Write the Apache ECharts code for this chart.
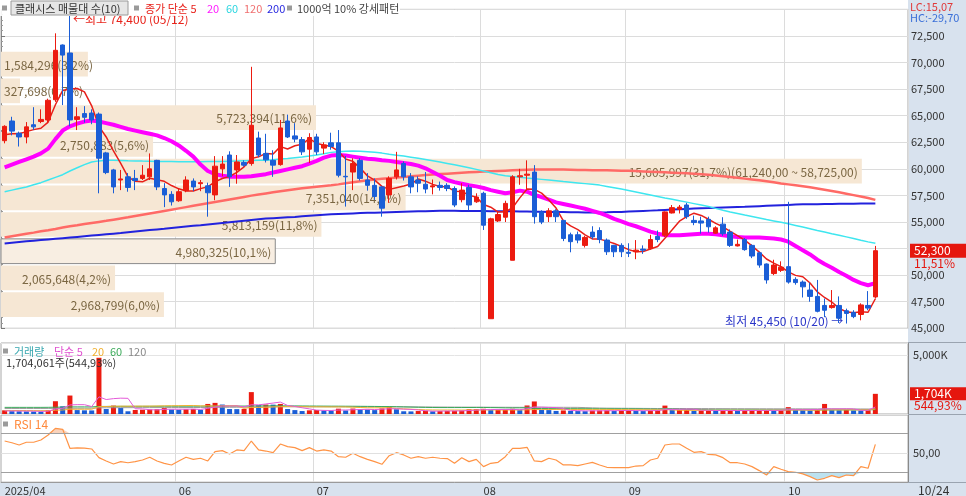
<!DOCTYPE html>
<html><head><meta charset="utf-8">
<script src="https://cdn.jsdelivr.net/npm/echarts@6/dist/echarts.min.js"></script>
<style>html,body{margin:0;padding:0;background:#fff;overflow:hidden}#c{width:966px;height:496px}</style>
</head><body><div id="c"></div>
<script>
// ---------------- DATA ----------------
const dates = [
'04/24','04/25','04/28','04/29','04/30',
'05/02','05/07','05/08','05/09','05/12','05/13','05/14','05/15','05/16','05/19','05/20','05/21','05/22','05/23','05/26','05/27','05/28','05/29','05/30',
'06/02','06/04','06/05','06/09','06/10','06/11','06/12','06/13','06/16','06/17','06/18','06/19','06/20','06/23','06/24','06/25','06/26','06/27','06/30',
'07/01','07/02','07/03','07/04','07/07','07/08','07/09','07/10','07/11','07/14','07/15','07/16','07/17','07/18','07/21','07/22','07/23','07/24','07/25','07/28','07/29','07/30','07/31',
'08/01','08/04','08/05','08/06','08/07','08/08','08/11','08/12','08/13','08/14','08/18','08/19','08/20','08/21','08/22','08/25','08/26','08/27','08/28','08/29',
'09/01','09/02','09/03','09/04','09/05','09/08','09/09','09/10','09/11','09/12','09/15','09/16','09/17','09/18','09/19','09/22','09/23','09/24','09/25','09/26','09/29','09/30',
'10/01','10/02','10/10','10/13','10/14','10/15','10/16','10/17','10/20','10/21','10/22','10/23','10/24'];

const opens = [62650,64500,63350,63000,64150,64450,64600,66500,71650,70900,
64650,65200,65250,65150,61500,59900,58950,59250,59100,59100,
59250,60800,58150,57600,57000,57950,58850,58600,58400,57550,
60000,61300,59900,60600,60500,62900,61450,60800,60400,64500,
63100,62750,61850,63000,61950,62450,62450,59300,59700,60800,
58950,58450,58300,57550,59250,60500,59250,58950,58550,58300,
58450,58450,58150,57100,58250,56900,57700,45900,55100,55450,
51400,59250,59400,59700,55950,55500,56050,55150,53800,53800,
52800,54050,54200,53300,52800,52800,52150,52200,52450,52500,
53650,53750,55850,56200,56600,55150,55100,55250,53950,54800,
54050,52750,53350,52800,52100,51050,50150,50450,50800,49600,
49350,48600,48000,47150,46950,47150,46650,46500,46300,47150,
47950];
const closes = [64000,63550,63000,63950,63950,64650,66450,71150,70700,64600,
64900,64850,64600,61000,59650,58300,59050,58250,58900,59400,
60000,58300,57550,56900,57850,58950,58300,58700,57750,60250,
60450,59250,60650,60350,64100,61300,60850,60350,63850,63000,
62800,61600,62950,61600,62250,62100,59400,59250,60500,59100,
58450,57400,56300,59100,59900,59250,58300,58650,58100,58400,
58250,58150,56600,58000,56600,57350,54700,55300,55700,56750,
59250,59350,59500,55500,55000,56050,55500,53450,53150,53300,
53550,53600,53350,52200,52200,52200,52050,52350,52350,53350,
53350,55950,56350,56400,55500,54950,54900,54550,54450,53900,
52800,52900,52400,51800,50950,49550,50950,50750,49350,49300,
48900,48000,46600,46700,47150,45950,46400,46100,47200,46900,
52300];
const lows = [62400,63150,62100,62400,63650,64300,64300,66300,66000,64000,
63650,64350,64200,57700,59500,57700,58000,57850,58000,58950,
58950,58000,56400,56550,56900,57800,57900,57900,55500,57050,
59300,58300,58600,60200,60300,61100,60600,59250,60300,62900,
62500,61300,60550,61300,61400,61800,59200,56450,58000,58900,
57950,57100,55500,56800,59000,58900,57700,57800,57700,57600,
57950,57900,56400,56850,56100,56800,54250,45900,55000,55000,
51400,58500,58000,54850,54800,55000,55000,53200,52150,53000,
52600,53400,53000,51900,51700,51700,51700,51500,52000,52400,
53100,53600,55800,55800,55300,54700,53900,54000,53900,53700,
52650,52700,52300,51600,50700,49200,50000,50300,49200,49100,
47900,47500,46500,46050,46850,45500,45450,45950,45750,46700,
47800];
const highs = [64100,64900,63500,64400,65800,65600,66600,72750,71700,74400,
65800,65900,65600,65300,61600,60000,59900,59600,59900,60350,
61450,60850,58650,57900,58200,59300,59100,58950,58700,61200,
61200,61650,61300,60800,69600,63500,63300,61750,64600,65100,
64300,63000,63350,63300,62500,63400,63650,61200,61000,61000,
59600,59100,58400,59300,61600,60700,59600,59300,59700,59000,
58800,58650,58350,58650,58500,57700,57850,55400,56000,57000,
59400,60000,60800,60350,56100,56300,56200,55200,54000,54100,
53700,54600,54500,53450,52850,53000,53000,53300,52800,53800,
54200,56000,56600,56600,56800,55600,55500,55500,54600,55450,
54300,53350,53500,52900,52200,51100,51450,51300,56900,49800,
49500,49300,49550,47800,48600,48000,46850,46700,47350,48500,
52750];

const ma5 = [63200,63300,63300,63500,63690,63820,64400,66030,67380,67510,
67560,67240,65930,63990,63000,61680,60520,59250,58830,58780,
59120,58970,58830,58430,58120,57910,57910,58140,58310,58790,
59090,59280,59670,60190,60960,61130,61450,61390,62090,61870,
62170,62320,62840,62390,62240,62100,61660,60920,60700,60070,
59340,58940,58350,58070,58230,58390,58570,59040,58840,58540,
58340,58310,57900,57880,57520,57340,56650,56390,55930,55960,
56340,57270,58110,58070,57720,57080,56310,55100,54630,54290,
53790,53410,53390,53200,52980,52710,52400,52200,52230,52460,
52690,53470,54270,55080,55510,55830,55620,55260,54870,54550,
54120,53720,53290,52760,52170,51520,51130,50800,50310,49980,
49850,49260,48430,47900,47470,46880,46560,46460,46560,46510,
47780];
const ma20 = [60150,60400,60650,60900,61150,61450,61900,62800,63600,64000,
64250,64450,64550,64450,64300,64150,63950,63750,63600,63450,
63300,63150,62900,62600,62200,61700,61150,60400,59800,59500,
59350,59250,59250,59250,59300,59400,59500,59650,59800,59950,
60100,60250,60500,60750,61050,61250,61300,61250,61150,61050,
60950,60900,60800,60750,60650,60550,60450,60300,60050,59700,
59350,58950,58750,58600,58450,58350,58200,58000,57850,57700,
57800,57950,57850,57550,57350,57100,56850,56700,56550,56400,
56250,56050,55850,55600,55300,55050,54800,54600,54350,54100,
53900,53750,53750,53750,53800,53850,53900,53900,53850,53750,
53650,53600,53550,53550,53550,53500,53450,53350,53150,52750,
52350,51950,51450,51050,50700,50300,49950,49550,49250,49050,
49250];
const ma60 = [57850,58000,58150,58300,58500,58700,58950,59200,59450,59800,
60100,60400,60650,60750,60800,60800,60780,60760,60750,60730,
60720,60700,60690,60680,60670,60670,60670,60670,60680,60690,
60700,60720,60740,60760,60780,60800,60820,60860,60920,60980,
61050,61120,61200,61300,61420,61550,61620,61660,61670,61660,
61620,61560,61480,61380,61290,61200,61100,60990,60880,60760,
60640,60510,60380,60240,60100,59950,59790,59630,59470,59350,
59270,59200,59130,59070,59010,58950,58880,58810,58750,58680,
58610,58540,58470,58350,58230,58100,57960,57820,57680,57540,
57400,57260,57130,57000,56870,56730,56590,56450,56280,56110,
55950,55800,55650,55510,55370,55230,55100,54970,54830,54680,
54520,54360,54200,54050,53900,53760,53600,53440,53280,53130,
53000];
const ma120 = [53540,53660,53780,53890,54000,54120,54230,54350,54480,54600,
54700,54810,54910,55010,55110,55220,55330,55440,55560,55680,
55800,55920,56040,56160,56280,56400,56520,56640,56760,56880,
57000,57120,57240,57360,57480,57590,57690,57790,57890,57990,
58090,58170,58240,58310,58380,58450,58540,58640,58740,58840,
58930,59000,59060,59120,59180,59240,59300,59360,59420,59470,
59510,59550,59590,59630,59670,59710,59740,59770,59800,59830,
59860,59890,59920,59940,59950,59950,59940,59930,59920,59900,
59890,59880,59870,59860,59850,59830,59810,59790,59760,59730,
59700,59670,59640,59610,59580,59540,59500,59440,59380,59310,
59240,59160,59080,59000,58920,58830,58730,58630,58540,58450,
58360,58260,58160,58040,57920,57790,57660,57530,57400,57250,
57080];
const ma200 = [52980,53050,53120,53180,53240,53300,53360,53420,53480,53540,
53600,53660,53720,53780,53840,53900,53960,54030,54100,54170,
54240,54300,54360,54430,54500,54570,54640,54700,54770,54840,
54910,54980,55050,55120,55190,55260,55320,55360,55400,55440,
55480,55530,55580,55630,55680,55720,55750,55780,55810,55840,
55860,55880,55900,55920,55940,55960,55980,56000,56020,56040,
56050,56050,56050,56040,56040,56030,56030,56020,56020,56010,
56000,55990,55980,55970,55960,55950,55940,55930,55920,55910,
55900,55900,55900,55910,55930,55950,55980,56010,56040,56070,
56100,56140,56170,56200,56230,56260,56290,56310,56340,56370,
56390,56410,56430,56460,56490,56520,56550,56580,56610,56640,
56660,56670,56680,56690,56700,56710,56720,56720,56730,56740,
56740];

// volume in thousands of shares (K)
const volumes = [310,240,230,220,210,200,330,1080,650,1560,
330,310,300,4750,420,710,510,230,340,360,
380,400,500,380,360,400,430,350,850,940,
800,420,410,430,1850,750,800,790,850,420,
330,250,310,340,300,290,450,300,460,400,
380,330,470,620,400,230,220,250,280,230,
250,260,270,300,400,410,440,330,350,370,
440,330,720,1060,350,330,260,300,260,250,
240,290,300,310,260,300,310,260,250,300,
320,710,330,340,350,270,300,310,260,300,
310,260,300,310,320,330,270,320,580,330,
310,300,360,850,330,320,340,300,290,312.71,
1704.061];
const volMa5 = [260,255,250,245,242,220,238,408,494,764,
790,786,630,1450,1222,1298,1338,1324,442,430,
364,342,396,404,404,408,414,384,478,594,
674,672,684,600,782,772,848,924,1008,722,
638,528,432,330,306,298,338,336,360,380,
398,374,408,440,440,410,388,344,276,242,
246,254,258,262,296,328,364,376,386,380,
386,364,442,584,580,558,544,460,300,280,
262,268,268,278,280,292,296,288,276,284,
288,368,382,400,410,400,318,314,298,288,
296,288,286,296,300,304,306,310,364,366,
362,368,376,430,430,432,440,428,316,313,
589];
const volMa20 = [300,297,294,290,286,281,282,321,339,402,
403,404,404,626,632,653,663,660,662,665,
668,676,690,698,705,715,720,684,694,663,
686,692,697,481,553,555,569,597,623,626,
623,616,606,604,601,596,597,594,575,548,
527,522,525,535,462,436,407,380,352,342,
338,339,337,335,340,346,345,347,341,340,
343,343,355,377,375,380,382,384,383,384,
384,385,387,387,380,375,368,365,360,356,
350,369,350,314,314,311,313,313,313,316,
319,318,318,318,321,322,320,323,340,341,
341,320,322,347,346,349,351,350,352,352,
422];
const volMa60 = [560,560,560,560,560,560,565,575,580,600,
600,600,600,640,640,645,648,648,650,650,
650,652,655,655,656,658,660,660,665,670,
672,672,672,672,680,683,686,688,690,688,
685,680,676,672,668,664,662,658,655,650,
645,640,632,625,615,600,585,570,558,548,
543,543,544,545,549,552,554,541,536,517,
518,519,526,464,463,457,452,454,452,451,
448,446,443,442,440,439,437,435,425,414,
406,411,410,408,383,375,367,359,349,347,
347,347,347,346,347,347,344,345,347,346,
344,344,342,346,345,346,348,349,349,351,
370];
const volMa120 = [470,470,470,470,470,470,472,478,480,488,
488,488,488,525,527,532,535,535,537,538,
540,541,543,544,545,547,549,550,556,562,
567,570,572,574,588,593,598,603,609,611,
612,612,612,612,612,611,612,611,611,610,
609,607,607,608,607,604,600,597,594,590,
587,584,582,580,578,576,574,572,570,568,
566,564,567,572,570,568,566,564,562,560,
540,520,505,495,490,485,482,478,474,470,
466,468,466,464,462,460,458,456,454,452,
450,448,446,444,442,440,438,437,438,436,
434,432,431,434,432,430,428,426,424,422,
430];

const rsi14 = [62.3,60.5,58.2,61.0,61.0,63.3,68.5,75.3,74.3,54.8,
55.2,55.0,54.1,45.2,41.8,38.7,41.1,40.0,41.1,42.8,
45.6,41.8,39.4,37.7,41.8,45.6,43.5,44.6,41.8,51.4,
52.4,49.0,53.1,52.4,62.3,53.1,52.0,50.3,59.2,56.5,
55.5,52.4,55.5,52.0,53.1,52.0,46.2,45.6,49.7,46.2,
43.5,41.1,38.4,47.2,50.3,48.0,44.6,46.2,44.6,45.6,
44.6,44.3,39.4,45.2,41.1,43.5,36.0,39.4,40.4,46.2,
54.8,54.8,55.8,41.8,41.1,44.6,42.8,37.7,37.7,37.0,
38.7,40.4,37.7,35.3,35.0,35.0,35.0,36.6,37.0,42.8,
44.6,58.2,59.2,59.2,54.8,50.7,51.4,48.6,48.0,45.2,
40.0,40.0,38.7,36.0,31.9,27.4,36.0,33.3,30.8,30.2,
28.5,25.7,22.3,24.0,26.7,24.7,27.4,26.7,36.0,34.3,
58.9];

// volume profile (매물대, 10 bands)
const profileLow  = [68785,66270,63755,61240,58725,56210,53695,51180,48665,46150];
const profileHigh = [71300,68785,66270,63755,61240,58725,56210,53695,51180,48665];
const profileVol  = [1584296,327698,5723394,2750883,15605997,7351040,5813159,4980325,2065648,2968799];
const profilePct  = [3.2,0.7,11.6,5.6,31.7,14.9,11.8,10.1,4.2,6.0];

// ---------------- CHART ----------------
const FONT = '"Noto Sans CJK KR","Noto Sans",sans-serif';
const UP = '#ec1b10', DOWN = '#1b5ed6';
const N = dates.length;
const cats = dates.concat(['', '', '', '']);
const fmt = n => Math.round(n).toLocaleString('en-US');
const dec = (v, d) => v.toFixed(d).replace('.', ',');
const isMonthStart = i => i > 0 && i < N && dates[i].slice(0, 2) !== dates[i - 1].slice(0, 2);
const showMonth = i => i === 0 || (isMonthStart(i) && i > 10);

const lastClose = closes[N - 1], prevClose = closes[N - 2];
const hiVal = Math.max(...highs), hiIdx = highs.indexOf(hiVal);
const loVal = Math.min(...lows), loIdx = lows.indexOf(loVal);
const lastVol = volumes[N - 1], prevVol = volumes[N - 2];

const maxBand = profileVol.indexOf(Math.max(...profileVol));
const profileLabels = profileVol.map((v, i) => fmt(v) + '(' + dec(profilePct[i], 1) + '%)' +
  (i === maxBand ? '(' + fmt(profileHigh[i]) + ',00 ~ ' + fmt(profileLow[i]) + ',00)' : ''));
const PFONT = '12px ' + FONT;
const mctx = document.createElement('canvas').getContext('2d');
mctx.font = PFONT;

const rsiHiBase = rsi14.map(v => 70), rsiHiDelta = rsi14.map(v => Math.max(v - 70, 0));
const rsiLoBase = rsi14.map(v => Math.min(v, 30)), rsiLoDelta = rsi14.map(v => 30 - Math.min(v, 30));

function xAxisFor(gi, withLabel) {
  return {
    type: 'category', gridIndex: gi, data: cats, boundaryGap: true,
    axisLine: { show: withLabel, lineStyle: { color: '#9a9a9a' } },
    axisTick: { show: false },
    axisLabel: {
      show: withLabel, interval: (i) => showMonth(i), hideOverlap: false,
      formatter: (v, i) => i === 0 ? '2025/' + v.slice(0, 2) : v.slice(0, 2),
      align: 'left', margin: 3, fontSize: 11, color: '#333', fontFamily: FONT
    },
    splitLine: { show: true, interval: (i) => i > 10 && isMonthStart(i), lineStyle: { color: '#dcdcdc' } }
  };
}
function lineSeries(data, color, width, xi, yi, z) {
  return { type: 'line', data, xAxisIndex: xi, yAxisIndex: yi, symbol: 'none', showSymbol: false,
    silent: true, z: z, lineStyle: { color, width }, itemStyle: { color } };
}
const gridBase = { left: 1, right: 58, show: true, borderColor: '#a8a8a8', borderWidth: 1,
  backgroundColor: 'transparent', containLabel: false, outerBoundsMode: 'none' };

const chart = echarts.init(document.getElementById('c'), null, { renderer: 'canvas' });
const option = {
  animation: false,
  textStyle: { fontFamily: FONT },
  grid: [
    Object.assign({}, gridBase, { top: 9.4, height: 318.9 }),
    Object.assign({}, gridBase, { top: 343, height: 71 }),
    Object.assign({}, gridBase, { top: 415, height: 67.2 })
  ],
  xAxis: [
    xAxisFor(0, false), xAxisFor(1, false), xAxisFor(2, true),
    { type: 'value', gridIndex: 0, min: 0, max: 33.4, show: false }
  ],
  yAxis: [
    { type: 'value', gridIndex: 0, position: 'right', min: 45000, max: 75000, interval: 2500,
      axisLine: { show: true, lineStyle: { color: '#8a8a8a' } },
      axisTick: { show: true, length: 4, lineStyle: { color: '#777' } },
      minorTick: { show: true, splitNumber: 5, length: 2, lineStyle: { color: '#999' } },
      axisLabel: { fontSize: 11, color: '#333', margin: 3, fontFamily: FONT, formatter: v => v >= 75000 ? '' : fmt(v) },
      splitLine: { show: true, lineStyle: { color: '#dcdcdc' } } },
    { type: 'value', gridIndex: 1, position: 'right', min: 0, max: 6000, interval: 5000,
      axisLine: { show: true, lineStyle: { color: '#8a8a8a' } },
      axisTick: { show: false },
      axisLabel: { fontSize: 11, color: '#333', margin: 5, fontFamily: FONT, formatter: v => v === 5000 ? '5,000K' : '' },
      splitLine: { show: true, lineStyle: { color: '#e4e4e4' } } },
    { type: 'value', gridIndex: 2, position: 'right', min: 20, max: 89, interval: 10,
      axisLine: { show: true, lineStyle: { color: '#8a8a8a' } },
      axisTick: { show: false },
      axisLabel: { fontSize: 11, color: '#333', margin: 5, fontFamily: FONT, formatter: v => v === 50 ? '50,00' : '' },
      splitLine: { show: false } }
  ],
  series: [
    { type: 'custom', xAxisIndex: 3, yAxisIndex: 0, z: 1, silent: true,
      encode: { x: 2, y: [0, 1] },
      data: profileLow.map((lo, i) => [lo, profileHigh[i], profilePct[i], profileVol[i]]),
      renderItem: function (params, api) {
        const i = params.dataIndex;
        const lo = api.value(0), hi = api.value(1), pct = api.value(2);
        const a = api.coord([0, hi]), b = api.coord([pct, lo]);
        const x0 = params.coordSys.x;
        const top = a[1] + 3, bottom = b[1] + 1;
        const label = profileLabels[i];
        const w = mctx.measureText(label).width;
        const tx = Math.max(x0 + 3, b[0] - 4 - w);
        const cur = lastClose >= lo && lastClose < hi;
        return { type: 'group', children: [
          { type: 'rect', shape: { x: x0, y: top, width: b[0] - x0, height: bottom - top },
            style: { fill: cur ? '#f8eee2' : '#f6e7d4', stroke: cur ? '#8a8a8a' : null, lineWidth: 1 } },
          { type: 'text', style: { text: label, x: tx, y: (top + bottom) / 2 + 1, align: 'left',
            verticalAlign: 'middle', font: PFONT, fill: '#7a6642' } }
        ] };
      } },
    lineSeries(ma200, '#2222dd', 2, 0, 0, 3),
    lineSeries(ma120, '#ff6a66', 2.5, 0, 0, 3),
    lineSeries(ma60, '#3ee6ef', 1.5, 0, 0, 3),
    lineSeries(ma20, '#ff00ff', 4, 0, 0, 3),
    lineSeries(ma5, '#e8201a', 1.5, 0, 0, 3),
    { type: 'candlestick', xAxisIndex: 0, yAxisIndex: 0, z: 5, barWidth: 5, silent: true,
      data: dates.map((d, i) => [opens[i], closes[i], lows[i], highs[i]]),
      itemStyle: { color: UP, color0: DOWN, borderColor: UP, borderColor0: DOWN, borderWidth: 1 },
      markPoint: { symbol: 'circle', symbolSize: 0, silent: true,
        data: [
          { coord: [dates[hiIdx], hiVal], label: { show: true, position: 'right', distance: 3, offset: [0, 4],
            formatter: '←최고 ' + fmt(hiVal) + ' (' + dates[hiIdx] + ')', color: '#e8231a', fontSize: 12, fontFamily: FONT } },
          { coord: [dates[loIdx], loVal], label: { show: true, position: 'left', distance: 3, offset: [0, -2],
            formatter: '최저 ' + fmt(loVal) + ' (' + dates[loIdx] + ') →', color: '#2a35c8', fontSize: 12, fontFamily: FONT } }
        ] } },
    { type: 'bar', xAxisIndex: 1, yAxisIndex: 1, z: 2, barWidth: 5, silent: true, data: volumes,
      itemStyle: { color: p => (p.dataIndex === 0 || volumes[p.dataIndex] >= volumes[p.dataIndex - 1]) ? UP : DOWN } },
    lineSeries(volMa120, '#9a9a9a', 1, 1, 1, 4),
    lineSeries(volMa60, '#3aa85a', 1, 1, 1, 4),
    lineSeries(volMa20, '#f2b030', 1, 1, 1, 4),
    lineSeries(volMa5, '#e45ad8', 1, 1, 1, 4),
    { type: 'line', xAxisIndex: 2, yAxisIndex: 2, data: rsiHiBase, stack: 'hi', symbol: 'none', silent: true, z: 2,
      lineStyle: { width: 0, opacity: 0 } },
    { type: 'line', xAxisIndex: 2, yAxisIndex: 2, data: rsiHiDelta, stack: 'hi', symbol: 'none', silent: true, z: 2,
      lineStyle: { width: 0, opacity: 0 }, areaStyle: { color: 'rgba(240,140,80,0.55)' } },
    { type: 'line', xAxisIndex: 2, yAxisIndex: 2, data: rsiLoBase, stack: 'lo', symbol: 'none', silent: true, z: 2,
      lineStyle: { width: 0, opacity: 0 } },
    { type: 'line', xAxisIndex: 2, yAxisIndex: 2, data: rsiLoDelta, stack: 'lo', symbol: 'none', silent: true, z: 2,
      lineStyle: { width: 0, opacity: 0 }, areaStyle: { color: '#9fd6ea' } },
    { type: 'line', xAxisIndex: 2, yAxisIndex: 2, data: rsi14, symbol: 'none', silent: true, z: 4,
      lineStyle: { color: '#ff9446', width: 1.2 },
      markLine: { silent: true, symbol: ['none', 'none'], label: { show: false },
        data: [
          { yAxis: 30, lineStyle: { color: '#a0a0a0', width: 1.2, type: 'solid' } },
          { yAxis: 50, lineStyle: { color: '#e0e0e0', width: 1, type: 'solid' } },
          { yAxis: 70, lineStyle: { color: '#a0a0a0', width: 1.2, type: 'solid' } }
        ] } }
  ]
};
chart.setOption(option);

// ---------------- overlays (text, boxes) ----------------
const yPrice = chart.convertToPixel({ yAxisIndex: 0 }, lastClose);
const yVol = chart.convertToPixel({ yAxisIndex: 1 }, lastVol);
const T = (text, x, y, fill, size, extra) => Object.assign({ type: 'text', z: 100,
  style: { text, x, y, fill, font: (size || 11) + 'px ' + FONT, verticalAlign: 'middle', align: 'left' } }, extra || {});
const SQ = (x, y) => ({ type: 'rect', z: 100, shape: { x, y: y - 2.5, width: 5, height: 5 }, style: { fill: '#9a9a9a' } });
const BG = '#d8e2ee';
const chg = (lastClose / prevClose - 1) * 100;
const lc = (lastClose / loVal - 1) * 100;
const hc = (lastClose / hiVal - 1) * 100;
const vchg = lastVol / prevVol * 100;

chart.setOption({ graphic: [
  { type: 'rect', z: -10, shape: { x: 908, y: 0, width: 58, height: 496 }, style: { fill: BG } },
  { type: 'rect', z: -10, shape: { x: 0, y: 483, width: 966, height: 13 }, style: { fill: BG } },
  { type: 'line', z: 1, shape: { x1: 908, y1: 342.5, x2: 966, y2: 342.5 }, style: { stroke: '#9aa4b0', lineWidth: 1 } },
  { type: 'line', z: 1, shape: { x1: 908, y1: 414.5, x2: 966, y2: 414.5 }, style: { stroke: '#9aa4b0', lineWidth: 1 } },
  { type: 'line', z: 1, shape: { x1: 908, y1: 482.5, x2: 966, y2: 482.5 }, style: { stroke: '#9aa4b0', lineWidth: 1 } },
  // top legend
  { type: 'rect', z: 99, shape: { x: 0, y: 0, width: 400, height: 16 }, style: { fill: 'rgba(255,255,255,0.9)' } },
  SQ(2, 8),
  { type: 'rect', z: 100, shape: { x: 11, y: 1, width: 117, height: 14 }, style: { fill: '#e6e6e6', stroke: '#9a9a9a', lineWidth: 1 } },
  T('클래시스 매물대 수(10)', 15, 8.5, '#333'),
  SQ(134, 8),
  T('종가 단순 5', 145, 8.5, '#e8201a'),
  T('20', 207, 8.5, '#ff1cff'),
  T('60', 226, 8.5, '#2cd6e0'),
  T('120', 244, 8.5, '#f07070'),
  T('200', 267, 8.5, '#2a2ae0'),
  SQ(287, 8),
  T('1000억 10% 강세패턴', 297, 8.5, '#444'),
  // right column top
  T('LC:' + dec(lc, 2), 910, 7, '#e03a3a', 11),
  T('HC:' + dec(hc, 2), 910, 18, '#3a6fd8', 11),
  // price box
  { type: 'rect', z: 100, shape: { x: 910, y: yPrice - 7, width: 56, height: 14 }, style: { fill: '#e5160e' } },
  T(fmt(lastClose), 914, yPrice, '#fff', 12),
  T(dec(chg, 2) + '%', 914, yPrice + 13, '#e5160e', 12),
  // volume legend
  SQ(3, 351),
  T('거래량', 14, 351.5, '#3aa8b0'),
  T('단순 5', 54, 351.5, '#e050d0'),
  T('20', 92, 351.5, '#f0b030'),
  T('60', 110, 351.5, '#3caa5a'),
  T('120', 128, 351.5, '#8a8a8a'),
  T(fmt(lastVol * 1000) + '주(' + dec(vchg, 2) + '%)', 6, 363, '#333'),
  // volume box
  { type: 'rect', z: 100, shape: { x: 910, y: yVol - 6.5, width: 56, height: 13 }, style: { fill: '#e5160e' } },
  T(fmt(Math.floor(lastVol)) + 'K', 914, yVol, '#fff', 12),
  T(dec(vchg, 2) + '%', 914, yVol + 12, '#e5160e', 12),
  // RSI legend
  SQ(3, 424),
  T('RSI 14', 14, 424.5, '#ff8a3d', 12),
  // last date
  T(dates[N - 1], 918, 490, '#333', 12)
] });
</script>
</body></html>
